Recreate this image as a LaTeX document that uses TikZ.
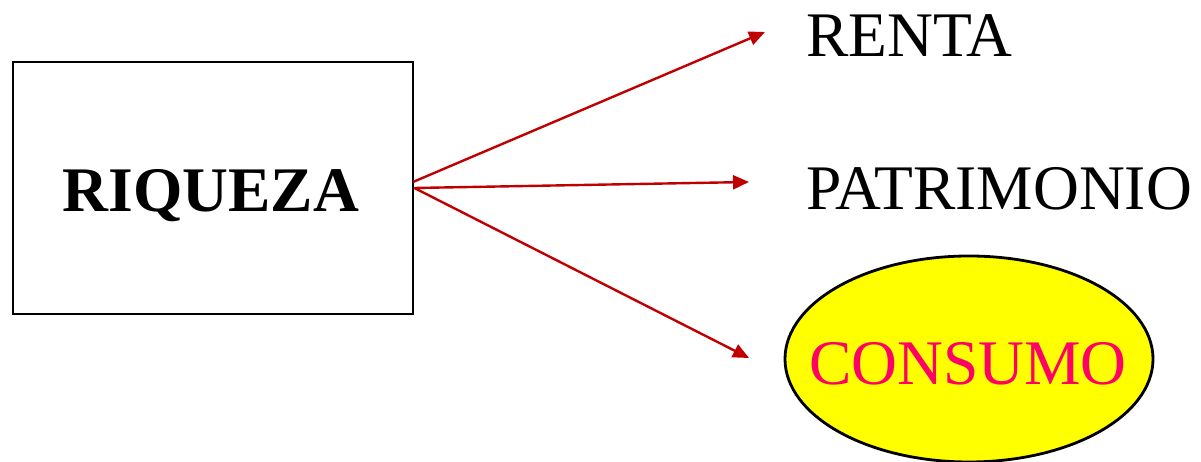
\documentclass[tikz,border=0pt]{standalone}
\usepackage{fontspec}
\setmainfont{Liberation Serif}
\usetikzlibrary{arrows.meta,shapes.geometric}
\definecolor{arrred}{HTML}{C00000}
\definecolor{conpink}{HTML}{FF0066}
\definecolor{conyellow}{HTML}{FFFF00}
\begin{document}
\begin{tikzpicture}[x=1pt,y=1pt,
  box/.style={draw=black,line width=2.8pt,minimum width=400pt,minimum height=252pt,inner sep=0pt},
  lbl/.style={anchor=base west,inner sep=0pt,font=\fontsize{63.5}{70}\selectfont},
  ell/.style={ellipse,draw=black,line width=2.8pt,fill=conyellow,minimum width=368pt,minimum height=206pt,inner sep=0pt},
  arr/.style={draw=arrred,line width=2.4pt,-{Triangle[length=16pt,width=14pt]}}]
\useasboundingbox (0,0) rectangle (1201,462);
\node[box] (riq) at (213,274) {};
\node[anchor=base,inner sep=0pt,font=\fontsize{63.5}{70}\selectfont\bfseries] (riqt) at (211,250) {RIQUEZA};
\node[ell] (cons) at (969,103) {};
\node[lbl] (renta) at (806,405) {RENTA};
\node[lbl] (patr) at (806,252) {PATRIMONIO};
\node[lbl,text=conpink] (cont) at (809,77) {CONSUMO};
\coordinate (s1) at (413,280);
\coordinate (t1) at (765,430);
\coordinate (t2) at (749,280);
\coordinate (t3) at (749,104);
\draw[arr] (s1) -- (t1);
\draw[arr] (riq.east) -- (t2);
\draw[arr] (riq.east) -- (t3);
\end{tikzpicture}
\end{document}
